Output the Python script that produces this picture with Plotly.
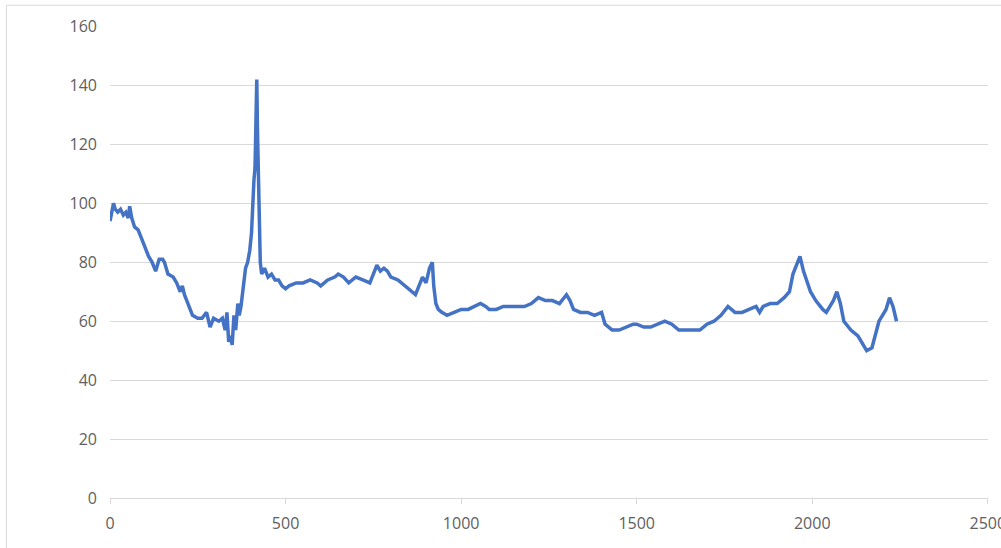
import plotly.graph_objects as go

x_vals = [0, 5, 10, 15, 22, 30, 38, 45, 52, 56, 62, 70, 80, 90, 100, 110, 120, 130, 140, 150, 155, 165, 180, 190, 200, 206, 212, 218, 225, 235, 250, 262, 275, 285, 295, 310, 320, 328, 333, 338, 342, 348, 353, 358, 364, 368, 373, 380, 386, 392, 398, 403, 407, 410, 413, 416, 418, 420, 422, 425, 428, 432, 440, 450, 460, 470, 480, 490, 500, 510, 530, 550, 570, 590, 600, 620, 640, 650, 665, 680, 700, 720, 740, 750, 760, 770, 780, 790, 800, 820, 840, 860, 870, 880, 890, 900, 910, 918, 922, 928, 935, 945, 960, 980, 1000, 1020, 1040, 1055, 1070, 1080, 1100, 1120, 1150, 1180, 1200, 1220, 1240, 1260, 1280, 1300, 1310, 1320, 1340, 1360, 1380, 1400, 1410, 1430, 1450, 1470, 1490, 1500, 1520, 1540, 1560, 1580, 1600, 1620, 1640, 1660, 1680, 1700, 1720, 1740, 1760, 1780, 1800, 1820, 1840, 1850, 1860, 1880, 1900, 1920, 1935, 1945, 1955, 1965, 1975, 1985, 1995, 2010, 2030, 2040, 2050, 2060, 2070, 2080, 2090, 2110, 2130, 2145, 2155, 2170, 2180, 2190, 2200, 2210, 2220, 2230, 2240]
y_vals = [94, 97, 100, 98, 97, 98, 96, 97, 95, 99, 95, 92, 91, 88, 85, 82, 80, 77, 81, 81, 80, 76, 75, 73, 70, 72, 69, 67, 65, 62, 61, 61, 63, 58, 61, 60, 61, 57, 63, 53, 55, 52, 62, 57, 66, 62, 65, 72, 78, 80, 84, 90, 102, 108, 112, 130, 142, 125, 110, 100, 80, 76, 78, 75, 76, 74, 74, 72, 71, 72, 73, 73, 74, 73, 72, 74, 75, 76, 75, 73, 75, 74, 73, 76, 79, 77, 78, 77, 75, 74, 72, 70, 69, 72, 75, 73, 78, 80, 72, 66, 64, 63, 62, 63, 64, 64, 65, 66, 65, 64, 64, 65, 65, 65, 66, 68, 67, 67, 66, 69, 67, 64, 63, 63, 62, 63, 59, 57, 57, 58, 59, 59, 58, 58, 59, 60, 59, 57, 57, 57, 57, 59, 60, 62, 65, 63, 63, 64, 65, 63, 65, 66, 66, 68, 70, 76, 79, 82, 77, 73, 70, 67, 64, 63, 65, 67, 70, 66, 60, 57, 55, 52, 50, 51, 55, 60, 62, 64, 68, 65, 60]

x_ticks = [0, 500, 1000, 1500, 2000, 2500]
y_ticks = [0, 20, 40, 60, 80, 100, 120, 140, 160]

fig = go.Figure()
fig.add_trace(go.Scatter(x=x_vals, y=y_vals, mode="lines",
                         line=dict(color="#4472C4", width=3.5),
                         showlegend=False))

font = dict(family="Open Sans", size=16, color="#606060")
fig.update_layout(
    width=1001, height=548,
    margin=dict(l=110, r=13, t=26, b=50),
    paper_bgcolor="white", plot_bgcolor="white",
    font=font,
    xaxis=dict(range=[0, 2500.5], tickvals=x_ticks, showgrid=False,
               zeroline=False, showline=True, linecolor="#D9D9D9", linewidth=1,
               ticks="outside", ticklen=5, tickcolor="#D9D9D9",
               ticklabelstandoff=6, ticklabeloverflow="allow",
               automargin=False, tickfont=font),
    yaxis=dict(range=[0, 160.2], tickvals=y_ticks, showgrid=True,
               gridcolor="#D9D9D9", gridwidth=1, zeroline=False,
               showline=False, ticks="", ticklabelstandoff=12,
               ticklabeloverflow="allow", automargin=False, tickfont=font),
    shapes=[dict(type="rect", xref="paper", yref="paper",
                 x0=-0.118, x1=1.02, y0=-0.12, y1=1.044,
                 line=dict(color="#D9D9D9", width=1))],
)

fig.write_html("out.html", config={"displayModeBar": False},
               post_script="document.body.style.margin='0px';")
